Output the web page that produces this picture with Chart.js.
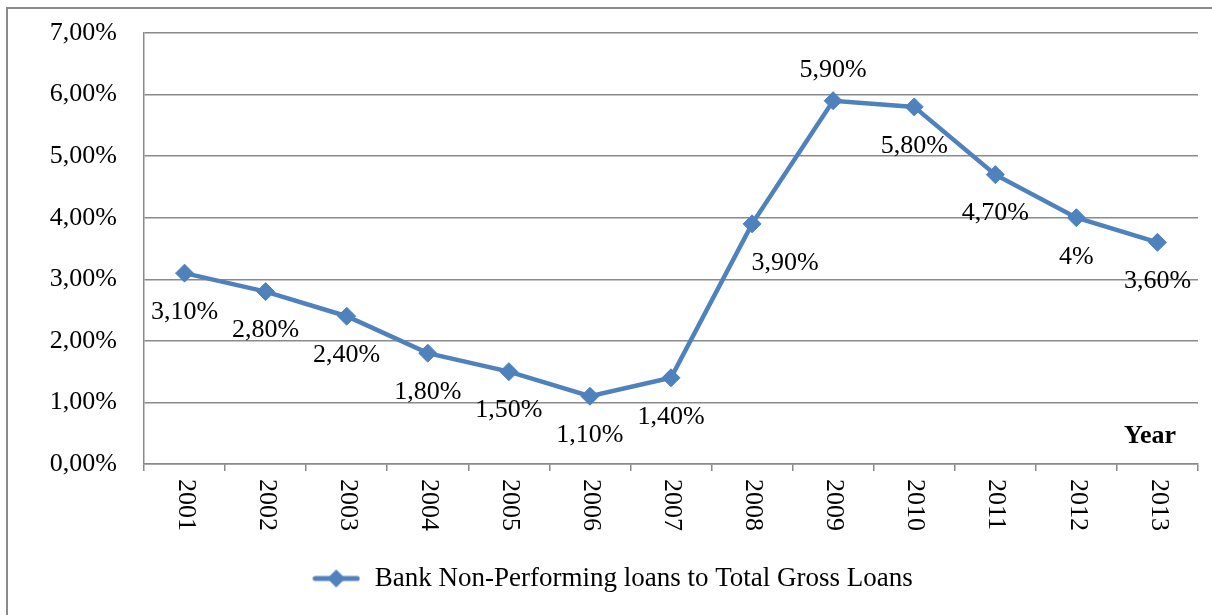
<!DOCTYPE html>
<html>
<head>
<meta charset="utf-8">
<title>Bank Non-Performing loans to Total Gross Loans</title>
<script src="https://cdn.jsdelivr.net/npm/chart.js@4.4.1/dist/chart.umd.min.js"></script>
<style>
    html, body { margin: 0; padding: 0; background: #fff; overflow: hidden; }
    .frame {
        position: absolute;
        left: 6px;
        top: 7px;
        width: 1300px;
        height: 700px;
        border-left: 2px solid #8a8a8a;
        border-top: 2px solid #8a8a8a;
        pointer-events: none;
    }
    .chart-box { position: relative; width: 1212px; height: 615px; }
</style>
</head>
<body>
<div class="chart-box">
    <canvas id="nplChart"></canvas>
</div>
<div class="frame"></div>
<script>
// Chart data
const years = ['2001', '2002', '2003', '2004', '2005', '2006', '2007',
               '2008', '2009', '2010', '2011', '2012', '2013'];
const nplRatio = [3.1, 2.8, 2.4, 1.8, 1.5, 1.1, 1.4, 3.9, 5.9, 5.8, 4.7, 4.0, 3.6];
const nplLabels = ['3,10%', '2,80%', '2,40%', '1,80%', '1,50%', '1,10%', '1,40%',
                   '3,90%', '5,90%', '5,80%', '4,70%', '4%', '3,60%'];
const yTicks = ['0,00%', '1,00%', '2,00%', '3,00%', '4,00%', '5,00%', '6,00%', '7,00%'];
const seriesName = 'Bank Non-Performing loans to Total Gross Loans';
const axisTitle = 'Year';

const BLUE = '#4f81bd';
const GRID = '#8a8a8a';
const FONT = '"Liberation Serif", "Times New Roman", serif';
const FONT_SIZE = 26;

// where each value label sits relative to its marker
const labelPlacement = ['below', 'below', 'below', 'below', 'below', 'below', 'below',
                        'belowRight', 'above', 'below', 'below', 'below', 'below'];

// legend sample: line with a diamond on it
function legendSymbol() {
    const c = document.createElement('canvas');
    c.width = 48;
    c.height = 22;
    const ctx = c.getContext('2d');
    ctx.strokeStyle = BLUE;
    ctx.lineWidth = 5;
    ctx.lineCap = 'round';
    ctx.beginPath();
    ctx.moveTo(3, 11);
    ctx.lineTo(45, 11);
    ctx.stroke();
    ctx.fillStyle = BLUE;
    ctx.beginPath();
    ctx.moveTo(24, 2);
    ctx.lineTo(33, 11);
    ctx.lineTo(24, 20);
    ctx.lineTo(15, 11);
    ctx.closePath();
    ctx.fill();
    return c;
}

// value labels, rotated year labels and the "Year" caption
const annotations = {
    id: 'annotations',
    afterDatasetsDraw(chart) {
        const ctx = chart.ctx;
        const meta = chart.getDatasetMeta(0);
        const area = chart.chartArea;
        const xScale = chart.scales.x;

        ctx.save();
        ctx.fillStyle = '#000';
        ctx.font = FONT_SIZE + 'px ' + FONT;
        ctx.textAlign = 'center';
        ctx.textBaseline = 'middle';
        meta.data.forEach((pt, i) => {
            let dx = 0, dy = 39;
            if (labelPlacement[i] === 'above') dy = -31;
            if (labelPlacement[i] === 'belowRight') dx = 33;
            ctx.fillText(nplLabels[i], pt.x + dx, pt.y + dy);
        });

        // year labels read top to bottom
        years.forEach((yr, i) => {
            const x = xScale.getPixelForValue(i);
            ctx.save();
            ctx.translate(x + 1, area.bottom + 15);
            ctx.rotate(Math.PI / 2);
            ctx.textAlign = 'left';
            ctx.textBaseline = 'middle';
            ctx.fillText(yr, 0, 0);
            ctx.restore();
        });

        ctx.font = 'bold 26px ' + FONT;
        ctx.textAlign = 'right';
        ctx.fillText(axisTitle, area.right - 22, area.bottom - 28);
        ctx.restore();
    }
};

document.addEventListener('DOMContentLoaded', function() {
    const ctx = document.getElementById('nplChart').getContext('2d');
    const symbol = legendSymbol();

    window.nplChart = new Chart(ctx, {
        type: 'line',
        data: {
            labels: years,
            datasets: [{
                label: seriesName,
                data: nplRatio,
                borderColor: BLUE,
                backgroundColor: BLUE,
                borderWidth: 4.5,
                pointStyle: 'rectRot',
                pointRadius: 9,
                pointBorderWidth: 1,
                pointBackgroundColor: BLUE,
                pointBorderColor: BLUE,
                tension: 0,
                fill: false
            }]
        },
        options: {
            responsive: true,
            maintainAspectRatio: false,
            animation: false,
            layout: {
                padding: { top: 33, right: 14, left: 26, bottom: 13 }
            },
            plugins: {
                tooltip: { enabled: false },
                legend: {
                    position: 'bottom',
                    labels: {
                        color: '#000',
                        font: { family: FONT, size: 27 },
                        usePointStyle: true,
                        pointStyleWidth: 50,
                        padding: 10,
                        generateLabels: function(chart) {
                            return [{
                                text: seriesName,
                                pointStyle: symbol,
                                fillStyle: BLUE,
                                strokeStyle: BLUE,
                                lineWidth: 0,
                                datasetIndex: 0,
                                hidden: false
                            }];
                        }
                    }
                }
            },
            scales: {
                x: {
                    type: 'category',
                    offset: true,
                    grid: {
                        offset: true,
                        drawOnChartArea: false,
                        drawTicks: true,
                        tickLength: 7,
                        color: GRID,
                        lineWidth: 1.5
                    },
                    border: { color: GRID, width: 1.5 },
                    ticks: { display: false },
                    afterFit: function(scale) {
                        scale.height = 91;
                    }
                },
                y: {
                    min: 0,
                    max: 7,
                    grid: {
                        color: GRID,
                        lineWidth: 1.5,
                        drawTicks: false
                    },
                    border: { color: GRID, width: 1.5 },
                    ticks: {
                        stepSize: 1,
                        padding: 27,
                        color: '#000',
                        font: { family: FONT, size: FONT_SIZE },
                        callback: function(value) {
                            return yTicks[Math.round(value)];
                        }
                    },
                    afterFit: function(scale) {
                        scale.width = 118;
                        scale.paddingTop = 0;
                        scale.paddingBottom = 0;
                    }
                }
            }
        },
        plugins: [annotations]
    });
});
</script>
</body>
</html>
